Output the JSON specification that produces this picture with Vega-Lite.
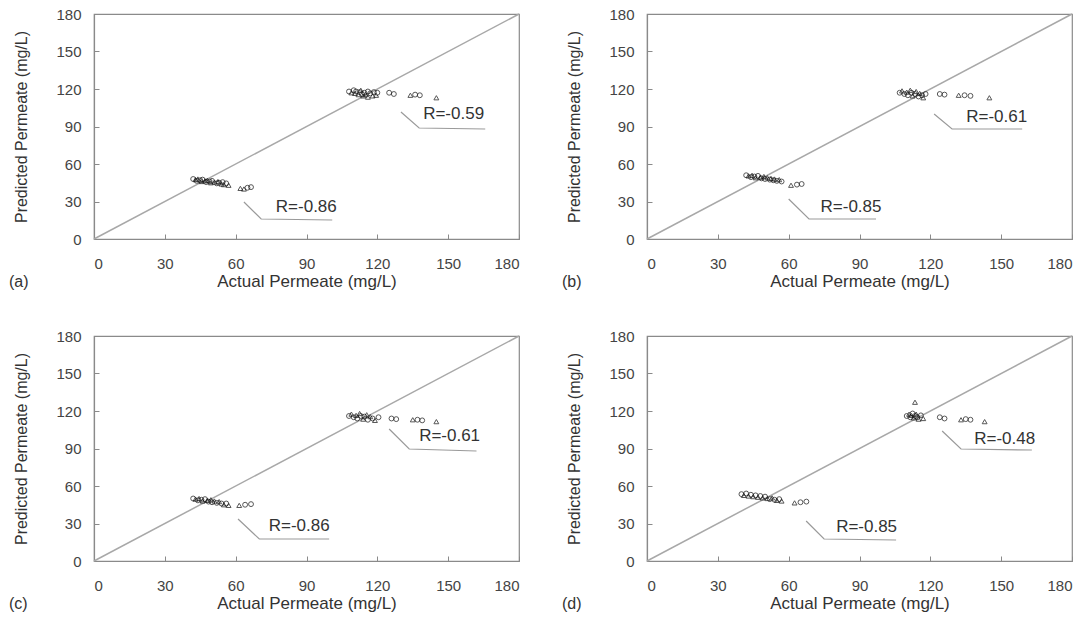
{
  "$schema": "https://vega.github.io/schema/vega-lite/v6.json",
  "padding": {"left": 8, "top": 6, "right": 5, "bottom": 5},
  "background": "white",
  "data": {"values": [
    {"panel":"a","kind":"diag","x":0,"y":0},{"panel":"a","kind":"diag","x":180,"y":180},
    {"panel":"b","kind":"diag","x":0,"y":0},{"panel":"b","kind":"diag","x":180,"y":180},
    {"panel":"c","kind":"diag","x":0,"y":0},{"panel":"c","kind":"diag","x":180,"y":180},
    {"panel":"d","kind":"diag","x":0,"y":0},{"panel":"d","kind":"diag","x":180,"y":180},

    {"panel":"a","kind":"tag","x":-36,"y":-34,"t":"(a)"},
    {"panel":"b","kind":"tag","x":-36,"y":-34,"t":"(b)"},
    {"panel":"c","kind":"tag","x":-36,"y":-34,"t":"(c)"},
    {"panel":"d","kind":"tag","x":-36,"y":-34,"t":"(d)"},

    {"panel":"a","kind":"lab","x":77,"y":25.6,"t":"R=-0.86"},
    {"panel":"a","kind":"lab","x":139.4,"y":100,"t":"R=-0.59"},
    {"panel":"b","kind":"lab","x":73.5,"y":25.6,"t":"R=-0.85"},
    {"panel":"b","kind":"lab","x":135.2,"y":98,"t":"R=-0.61"},
    {"panel":"c","kind":"lab","x":74,"y":28,"t":"R=-0.86"},
    {"panel":"c","kind":"lab","x":137.7,"y":100,"t":"R=-0.61"},
    {"panel":"d","kind":"lab","x":80.1,"y":27,"t":"R=-0.85"},
    {"panel":"d","kind":"lab","x":138.6,"y":97.6,"t":"R=-0.48"},

    {"panel":"a","kind":"lead","g":"lo","o":1,"x":63.5,"y":29.6},
    {"panel":"a","kind":"lead","g":"lo","o":2,"x":70.8,"y":16},
    {"panel":"a","kind":"lead","g":"lo","o":3,"x":100.9,"y":15.2},
    {"panel":"a","kind":"lead","g":"hi","o":1,"x":130,"y":101.6},
    {"panel":"a","kind":"lead","g":"hi","o":2,"x":137.7,"y":88.8},
    {"panel":"a","kind":"lead","g":"hi","o":3,"x":165.7,"y":88},
    {"panel":"b","kind":"lead","g":"lo","o":1,"x":60,"y":32},
    {"panel":"b","kind":"lead","g":"lo","o":2,"x":68.6,"y":16},
    {"panel":"b","kind":"lead","g":"lo","o":3,"x":97,"y":16},
    {"panel":"b","kind":"lead","g":"hi","o":1,"x":121.6,"y":100},
    {"panel":"b","kind":"lead","g":"hi","o":2,"x":129.2,"y":88},
    {"panel":"b","kind":"lead","g":"hi","o":3,"x":158.9,"y":88},
    {"panel":"c","kind":"lead","g":"lo","o":1,"x":61,"y":33.6},
    {"panel":"c","kind":"lead","g":"lo","o":2,"x":70,"y":17.6},
    {"panel":"c","kind":"lead","g":"lo","o":3,"x":99.6,"y":17.6},
    {"panel":"c","kind":"lead","g":"hi","o":1,"x":125,"y":105.6},
    {"panel":"c","kind":"lead","g":"hi","o":2,"x":133.5,"y":89.6},
    {"panel":"c","kind":"lead","g":"hi","o":3,"x":162,"y":88},
    {"panel":"d","kind":"lead","g":"lo","o":1,"x":67.4,"y":32},
    {"panel":"d","kind":"lead","g":"lo","o":2,"x":75,"y":17.6},
    {"panel":"d","kind":"lead","g":"lo","o":3,"x":105.5,"y":16.8},
    {"panel":"d","kind":"lead","g":"hi","o":1,"x":125,"y":104},
    {"panel":"d","kind":"lead","g":"hi","o":2,"x":133,"y":89.6},
    {"panel":"d","kind":"lead","g":"hi","o":3,"x":163,"y":88.8},

    {"panel":"a","kind":"pt","m":"c","x":42,"y":48},{"panel":"a","kind":"pt","m":"t","x":43,"y":47.5},
    {"panel":"a","kind":"pt","m":"c","x":43.5,"y":46.5},{"panel":"a","kind":"pt","m":"t","x":44,"y":48},
    {"panel":"a","kind":"pt","m":"c","x":45,"y":47},{"panel":"a","kind":"pt","m":"t","x":45.5,"y":46},
    {"panel":"a","kind":"pt","m":"c","x":46,"y":47.5},{"panel":"a","kind":"pt","m":"t","x":47,"y":46.5},
    {"panel":"a","kind":"pt","m":"c","x":47.5,"y":45.5},{"panel":"a","kind":"pt","m":"t","x":48,"y":47},
    {"panel":"a","kind":"pt","m":"c","x":49,"y":46},{"panel":"a","kind":"pt","m":"t","x":49.5,"y":45},
    {"panel":"a","kind":"pt","m":"c","x":50,"y":46.5},{"panel":"a","kind":"pt","m":"t","x":51,"y":45.5},
    {"panel":"a","kind":"pt","m":"c","x":52,"y":44.5},{"panel":"a","kind":"pt","m":"t","x":52.5,"y":46},
    {"panel":"a","kind":"pt","m":"c","x":53,"y":45},{"panel":"a","kind":"pt","m":"t","x":54,"y":44},
    {"panel":"a","kind":"pt","m":"c","x":54.5,"y":45.5},{"panel":"a","kind":"pt","m":"t","x":55,"y":43.5},
    {"panel":"a","kind":"pt","m":"c","x":56,"y":44.5},{"panel":"a","kind":"pt","m":"t","x":57,"y":43},
    {"panel":"a","kind":"pt","m":"t","x":62,"y":40.5},{"panel":"a","kind":"pt","m":"t","x":63.5,"y":40},
    {"panel":"a","kind":"pt","m":"c","x":65,"y":41},{"panel":"a","kind":"pt","m":"c","x":66.5,"y":41.5},
    {"panel":"a","kind":"pt","m":"c","x":108,"y":118},{"panel":"a","kind":"pt","m":"t","x":109,"y":117},
    {"panel":"a","kind":"pt","m":"c","x":110,"y":119},{"panel":"a","kind":"pt","m":"t","x":110.5,"y":116.5},
    {"panel":"a","kind":"pt","m":"c","x":111,"y":118},{"panel":"a","kind":"pt","m":"t","x":112,"y":115.5},
    {"panel":"a","kind":"pt","m":"c","x":112.5,"y":117.5},{"panel":"a","kind":"pt","m":"t","x":113,"y":119},
    {"panel":"a","kind":"pt","m":"c","x":113.5,"y":116},{"panel":"a","kind":"pt","m":"t","x":114,"y":114.5},
    {"panel":"a","kind":"pt","m":"c","x":114.5,"y":117},{"panel":"a","kind":"pt","m":"t","x":115,"y":115.5},
    {"panel":"a","kind":"pt","m":"c","x":116,"y":118},{"panel":"a","kind":"pt","m":"t","x":116,"y":113.5},
    {"panel":"a","kind":"pt","m":"c","x":117,"y":116.5},{"panel":"a","kind":"pt","m":"t","x":118,"y":114.5},
    {"panel":"a","kind":"pt","m":"c","x":118.5,"y":117.5},{"panel":"a","kind":"pt","m":"t","x":119.5,"y":115},
    {"panel":"a","kind":"pt","m":"c","x":120,"y":117},
    {"panel":"a","kind":"pt","m":"c","x":125,"y":117},{"panel":"a","kind":"pt","m":"c","x":127,"y":116},
    {"panel":"a","kind":"pt","m":"t","x":134,"y":115},{"panel":"a","kind":"pt","m":"c","x":136,"y":115.5},
    {"panel":"a","kind":"pt","m":"c","x":138,"y":115},{"panel":"a","kind":"pt","m":"t","x":145,"y":113},

    {"panel":"b","kind":"pt","m":"c","x":42,"y":51},{"panel":"b","kind":"pt","m":"t","x":43,"y":50.5},
    {"panel":"b","kind":"pt","m":"c","x":44,"y":49.5},{"panel":"b","kind":"pt","m":"t","x":44.5,"y":51},
    {"panel":"b","kind":"pt","m":"c","x":45.5,"y":50},{"panel":"b","kind":"pt","m":"t","x":46,"y":49},
    {"panel":"b","kind":"pt","m":"c","x":47,"y":50.5},{"panel":"b","kind":"pt","m":"t","x":48,"y":49.5},
    {"panel":"b","kind":"pt","m":"c","x":48.5,"y":48.5},{"panel":"b","kind":"pt","m":"t","x":49.5,"y":50},
    {"panel":"b","kind":"pt","m":"c","x":50,"y":48},{"panel":"b","kind":"pt","m":"t","x":51,"y":49},
    {"panel":"b","kind":"pt","m":"c","x":52,"y":47.5},{"panel":"b","kind":"pt","m":"t","x":52.5,"y":48.5},
    {"panel":"b","kind":"pt","m":"c","x":53.5,"y":47},{"panel":"b","kind":"pt","m":"t","x":54,"y":48},
    {"panel":"b","kind":"pt","m":"c","x":55,"y":46.5},{"panel":"b","kind":"pt","m":"t","x":56,"y":47.5},
    {"panel":"b","kind":"pt","m":"c","x":57,"y":46},
    {"panel":"b","kind":"pt","m":"t","x":61,"y":43},{"panel":"b","kind":"pt","m":"c","x":63.5,"y":43.5},
    {"panel":"b","kind":"pt","m":"c","x":65.5,"y":44},
    {"panel":"b","kind":"pt","m":"c","x":107,"y":117},{"panel":"b","kind":"pt","m":"t","x":108,"y":118.5},
    {"panel":"b","kind":"pt","m":"c","x":109,"y":116},{"panel":"b","kind":"pt","m":"t","x":110,"y":117.5},
    {"panel":"b","kind":"pt","m":"c","x":110.5,"y":115},{"panel":"b","kind":"pt","m":"t","x":111.5,"y":119},
    {"panel":"b","kind":"pt","m":"c","x":112,"y":117},{"panel":"b","kind":"pt","m":"t","x":112.5,"y":114.5},
    {"panel":"b","kind":"pt","m":"c","x":113.5,"y":116},{"panel":"b","kind":"pt","m":"t","x":114,"y":118},
    {"panel":"b","kind":"pt","m":"c","x":115,"y":114},{"panel":"b","kind":"pt","m":"t","x":115.5,"y":116.5},
    {"panel":"b","kind":"pt","m":"c","x":116.5,"y":115},{"panel":"b","kind":"pt","m":"t","x":117,"y":113},
    {"panel":"b","kind":"pt","m":"c","x":118,"y":116},
    {"panel":"b","kind":"pt","m":"c","x":124,"y":116},{"panel":"b","kind":"pt","m":"c","x":126,"y":115.5},
    {"panel":"b","kind":"pt","m":"t","x":132,"y":115},{"panel":"b","kind":"pt","m":"c","x":134.5,"y":115},
    {"panel":"b","kind":"pt","m":"c","x":137,"y":114.5},{"panel":"b","kind":"pt","m":"t","x":145,"y":113},

    {"panel":"c","kind":"pt","m":"c","x":42,"y":50},{"panel":"c","kind":"pt","m":"t","x":43,"y":49.5},
    {"panel":"c","kind":"pt","m":"c","x":44,"y":48.5},{"panel":"c","kind":"pt","m":"t","x":44.5,"y":50},
    {"panel":"c","kind":"pt","m":"c","x":45.5,"y":49},{"panel":"c","kind":"pt","m":"t","x":46,"y":48},
    {"panel":"c","kind":"pt","m":"c","x":47,"y":49.5},{"panel":"c","kind":"pt","m":"t","x":48,"y":48.5},
    {"panel":"c","kind":"pt","m":"c","x":48.5,"y":47.5},{"panel":"c","kind":"pt","m":"t","x":49.5,"y":49},
    {"panel":"c","kind":"pt","m":"c","x":50,"y":47},{"panel":"c","kind":"pt","m":"t","x":51,"y":48},
    {"panel":"c","kind":"pt","m":"c","x":52,"y":46.5},{"panel":"c","kind":"pt","m":"t","x":53,"y":47.5},
    {"panel":"c","kind":"pt","m":"c","x":54,"y":46},{"panel":"c","kind":"pt","m":"t","x":55,"y":45},
    {"panel":"c","kind":"pt","m":"c","x":56,"y":46},{"panel":"c","kind":"pt","m":"t","x":57,"y":44.5},
    {"panel":"c","kind":"pt","m":"t","x":61.5,"y":44.5},{"panel":"c","kind":"pt","m":"c","x":64,"y":45},
    {"panel":"c","kind":"pt","m":"c","x":66.5,"y":45.5},
    {"panel":"c","kind":"pt","m":"c","x":108,"y":116},{"panel":"c","kind":"pt","m":"t","x":109,"y":117.5},
    {"panel":"c","kind":"pt","m":"c","x":110,"y":115},{"panel":"c","kind":"pt","m":"t","x":111,"y":116.5},
    {"panel":"c","kind":"pt","m":"c","x":111.5,"y":114},{"panel":"c","kind":"pt","m":"t","x":112.5,"y":118},
    {"panel":"c","kind":"pt","m":"c","x":113,"y":116},{"panel":"c","kind":"pt","m":"t","x":114,"y":113.5},
    {"panel":"c","kind":"pt","m":"c","x":114.5,"y":115.5},{"panel":"c","kind":"pt","m":"t","x":115.5,"y":117},
    {"panel":"c","kind":"pt","m":"c","x":116,"y":113},{"panel":"c","kind":"pt","m":"t","x":117,"y":115.5},
    {"panel":"c","kind":"pt","m":"c","x":118,"y":114},{"panel":"c","kind":"pt","m":"t","x":119,"y":112.5},
    {"panel":"c","kind":"pt","m":"c","x":120.5,"y":115},
    {"panel":"c","kind":"pt","m":"c","x":126,"y":114},{"panel":"c","kind":"pt","m":"c","x":128,"y":113.5},
    {"panel":"c","kind":"pt","m":"t","x":135,"y":113},{"panel":"c","kind":"pt","m":"c","x":137,"y":113},
    {"panel":"c","kind":"pt","m":"c","x":139,"y":112.5},{"panel":"c","kind":"pt","m":"t","x":145,"y":111.5},

    {"panel":"d","kind":"pt","m":"c","x":40,"y":53.5},{"panel":"d","kind":"pt","m":"t","x":41,"y":52.5},
    {"panel":"d","kind":"pt","m":"c","x":42,"y":54},{"panel":"d","kind":"pt","m":"t","x":43,"y":52},
    {"panel":"d","kind":"pt","m":"c","x":44,"y":53},{"panel":"d","kind":"pt","m":"t","x":45,"y":51.5},
    {"panel":"d","kind":"pt","m":"c","x":46,"y":52.5},{"panel":"d","kind":"pt","m":"t","x":47,"y":51},
    {"panel":"d","kind":"pt","m":"c","x":48,"y":52},{"panel":"d","kind":"pt","m":"t","x":49,"y":50.5},
    {"panel":"d","kind":"pt","m":"c","x":50,"y":51.5},{"panel":"d","kind":"pt","m":"t","x":51,"y":50},
    {"panel":"d","kind":"pt","m":"c","x":52,"y":49.5},{"panel":"d","kind":"pt","m":"t","x":53,"y":50.5},
    {"panel":"d","kind":"pt","m":"c","x":54,"y":49},{"panel":"d","kind":"pt","m":"t","x":55,"y":48.5},
    {"panel":"d","kind":"pt","m":"c","x":56,"y":49.5},{"panel":"d","kind":"pt","m":"t","x":57,"y":48},
    {"panel":"d","kind":"pt","m":"t","x":62.5,"y":46.5},{"panel":"d","kind":"pt","m":"c","x":65,"y":47},
    {"panel":"d","kind":"pt","m":"c","x":67.5,"y":47.5},
    {"panel":"d","kind":"pt","m":"c","x":110,"y":116},{"panel":"d","kind":"pt","m":"t","x":111,"y":117.5},
    {"panel":"d","kind":"pt","m":"c","x":111.5,"y":115},{"panel":"d","kind":"pt","m":"t","x":112,"y":116.5},
    {"panel":"d","kind":"pt","m":"c","x":112.5,"y":118},{"panel":"d","kind":"pt","m":"t","x":113,"y":114.5},
    {"panel":"d","kind":"pt","m":"c","x":113.5,"y":116},{"panel":"d","kind":"pt","m":"t","x":114,"y":117.5},
    {"panel":"d","kind":"pt","m":"c","x":114.5,"y":115},{"panel":"d","kind":"pt","m":"t","x":115,"y":113.5},
    {"panel":"d","kind":"pt","m":"c","x":116,"y":116.5},{"panel":"d","kind":"pt","m":"t","x":117,"y":114},
    {"panel":"d","kind":"pt","m":"t","x":113.5,"y":127},
    {"panel":"d","kind":"pt","m":"c","x":124,"y":115},{"panel":"d","kind":"pt","m":"c","x":126,"y":114},
    {"panel":"d","kind":"pt","m":"t","x":133,"y":113},{"panel":"d","kind":"pt","m":"c","x":135,"y":113.5},
    {"panel":"d","kind":"pt","m":"c","x":137,"y":113},{"panel":"d","kind":"pt","m":"t","x":143,"y":111.5}
  ]},
  "facet": {"field": "panel", "type": "nominal", "header": {"title": null, "labelExpr": "''", "labelFontSize": 0.1, "labelPadding": 0}},
  "columns": 2,
  "spacing": {"row": 97, "column": 128},
  "bounds": "flush",
  "resolve": {"axis": {"x": "independent", "y": "independent"}},
  "spec": {
    "width": 425,
    "height": 225,
    "encoding": {
      "x": {"field": "x", "type": "quantitative",
            "scale": {"domain": [0, 180], "nice": false},
            "axis": {"values": [0, 30, 60, 90, 120, 150, 180], "title": "Actual Permeate (mg/L)", "titleFontSize": 17, "titlePadding": 2, "labelPadding": 22}},
      "y": {"field": "y", "type": "quantitative",
            "scale": {"domain": [0, 180], "nice": false},
            "axis": {"values": [0, 30, 60, 90, 120, 150, 180], "title": "Predicted Permeate (mg/L)", "titleFontSize": 16, "titlePadding": 26, "labelPadding": 18}}
    },
    "layer": [
      {"transform": [{"filter": "datum.kind === 'diag'"}],
       "mark": {"type": "line", "color": "#a8a8a8", "strokeWidth": 1.5}},
      {"transform": [{"filter": "datum.kind === 'lead'"}],
       "mark": {"type": "line", "color": "#9a9a9a", "strokeWidth": 1.2},
       "encoding": {"detail": {"field": "g"}, "order": {"field": "o"}}},
      {"transform": [{"filter": "datum.kind === 'pt'"}],
       "mark": {"type": "point", "filled": false, "color": "#111", "size": 24, "strokeWidth": 1},
       "encoding": {"shape": {"field": "m", "type": "nominal", "scale": {"domain": ["t", "c"], "range": ["triangle-up", "circle"]}, "legend": null}}},
      {"transform": [{"filter": "datum.kind === 'lab'"}],
       "mark": {"type": "text", "align": "left", "baseline": "middle", "fontSize": 17, "color": "#333", "font": "Liberation Sans"},
       "encoding": {"text": {"field": "t"}}},
      {"transform": [{"filter": "datum.kind === 'tag'"}],
       "mark": {"type": "text", "align": "left", "baseline": "middle", "fontSize": 16, "color": "#333", "font": "Liberation Sans"},
       "encoding": {"text": {"field": "t"}}}
    ]
  },
  "config": {
    "view": {"stroke": "#8a8a8a", "strokeWidth": 1.2},
    "axis": {"grid": false, "domainColor": "#8a8a8a", "domainWidth": 1.2, "tickColor": "#8a8a8a", "tickSize": -5,
             "labelFont": "Liberation Sans", "labelFontSize": 15, "labelColor": "#444",
             "titleFont": "Liberation Sans", "titleFontWeight": "normal", "titleColor": "#333"}
  }
}
